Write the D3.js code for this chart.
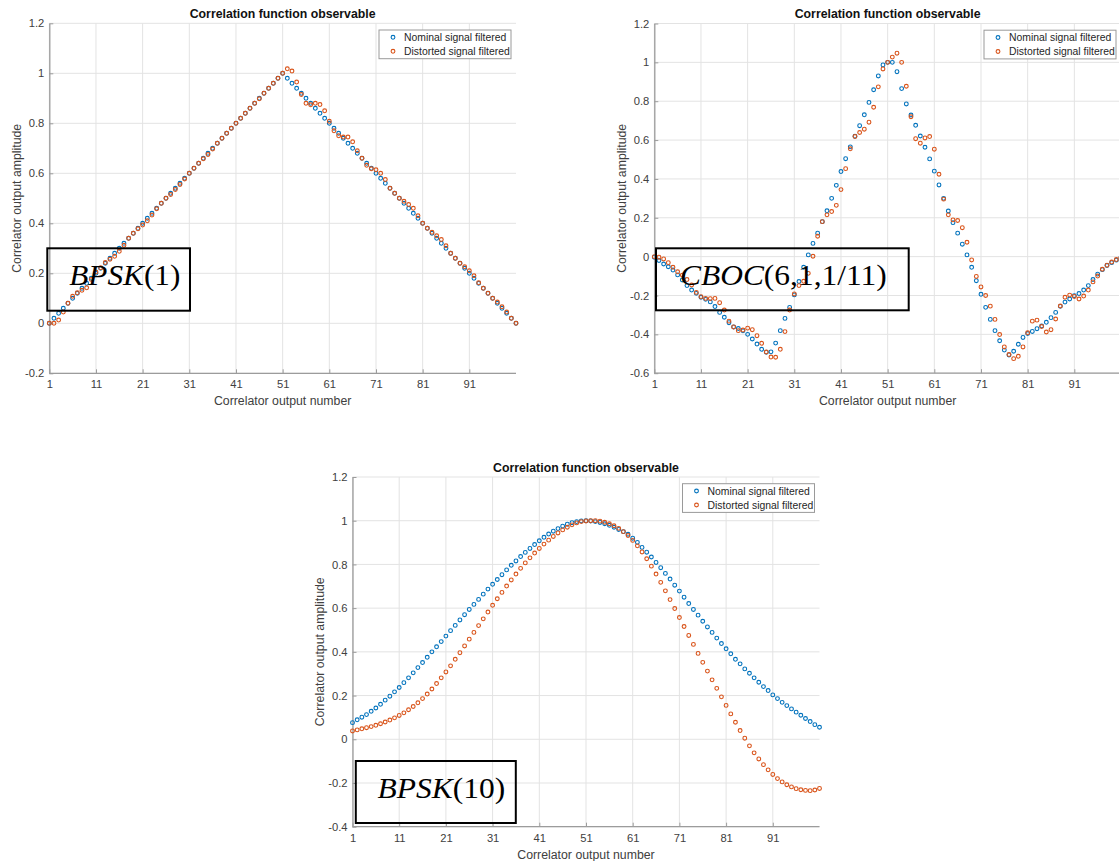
<!DOCTYPE html>
<html><head><meta charset="utf-8">
<script src="https://cdn.jsdelivr.net/npm/d3@7"></script>
<style>body{margin:0;background:#fff;} svg{display:block;}</style>
</head><body>
<svg id="chart" width="1119" height="861"></svg>
<script>
// ---------- data ----------
const xIndex = d3.range(1, 102); // correlator output numbers 1..101
const xTickValues = [1, 11, 21, 31, 41, 51, 61, 71, 81, 91];
const seriesNames = ["Nominal signal filtered", "Distorted signal filtered"];
const titleText = "Correlation function observable";
const xLabelText = "Correlator output number";
const yLabelText = "Correlator output amplitude";

const bpsk1Nominal = [0,0.02,0.04,0.06,0.08,0.10,0.12,0.14,0.16,0.18,0.20,0.22,0.24,0.26,0.28,0.30,0.32,0.34,0.36,0.38,0.40,0.42,0.44,0.46,0.48,0.50,0.52,0.54,0.56,0.58,0.60,0.62,0.64,0.66,0.68,0.70,0.72,0.74,0.76,0.78,0.80,0.82,0.84,0.86,0.88,0.90,0.92,0.94,0.96,0.98,1.00,
  0.98,0.96,0.94,0.92,0.90,0.88,0.86,0.84,0.82,0.80,0.78,0.76,0.74,0.72,0.70,0.68,0.66,0.64,0.62,0.60,0.58,0.56,0.54,0.52,0.50,0.48,0.46,0.44,0.42,0.40,0.38,0.36,0.34,0.32,0.30,0.28,0.26,0.24,0.22,0.20,0.18,0.16,0.14,0.12,0.10,0.08,0.06,0.04,0.02,0];
const bpsk1Distorted = [0,0,0.013,0.045,0.08,0.108,0.122,0.132,0.142,0.175,0.205,0.222,0.243,0.256,0.268,0.288,0.312,0.34,0.36,0.378,0.393,0.41,0.433,0.458,0.48,0.5,0.515,0.535,0.555,0.577,0.6,0.62,0.64,0.658,0.675,0.697,0.72,0.74,0.76,0.78,0.8,0.82,0.84,0.86,0.88,0.898,0.92,0.94,0.96,0.98,1.0,
  1.018,1.009,0.965,0.915,0.88,0.874,0.88,0.875,0.85,0.808,0.77,0.75,0.745,0.745,0.726,0.69,0.66,0.632,0.618,0.614,0.6,0.575,0.54,0.52,0.5,0.488,0.475,0.46,0.43,0.4,0.38,0.364,0.35,0.335,0.31,0.28,0.26,0.24,0.226,0.21,0.19,0.162,0.14,0.12,0.1,0.085,0.066,0.045,0.02,0.0];

const cbocNominal = [-0.003,-0.02,-0.038,-0.052,-0.069,-0.094,-0.12,-0.149,-0.172,-0.189,-0.209,-0.22,-0.233,-0.257,-0.287,-0.312,-0.34,-0.362,-0.37,-0.382,-0.4,-0.424,-0.45,-0.477,-0.492,-0.49,-0.445,-0.381,-0.318,-0.261,-0.197,-0.128,-0.055,0.009,0.068,0.121,0.18,0.236,0.3,0.367,0.438,0.504,0.565,0.62,0.674,0.73,0.794,0.859,0.93,0.987,1.0,
  1.0,0.952,0.865,0.786,0.729,0.676,0.621,0.563,0.503,0.44,0.369,0.3,0.235,0.175,0.121,0.064,0.009,-0.055,-0.124,-0.194,-0.261,-0.323,-0.381,-0.433,-0.481,-0.506,-0.487,-0.451,-0.416,-0.396,-0.385,-0.371,-0.357,-0.338,-0.314,-0.287,-0.256,-0.234,-0.218,-0.201,-0.19,-0.172,-0.149,-0.118,-0.09,-0.067,-0.046,-0.031,-0.018,-0.005];
const cbocDistorted = [0.0,-0.003,-0.012,-0.031,-0.055,-0.078,-0.095,-0.118,-0.146,-0.184,-0.206,-0.215,-0.216,-0.215,-0.237,-0.275,-0.332,-0.362,-0.381,-0.378,-0.368,-0.376,-0.407,-0.446,-0.491,-0.517,-0.518,-0.477,-0.386,-0.275,-0.192,-0.149,-0.127,-0.086,0.002,0.105,0.18,0.215,0.232,0.264,0.345,0.453,0.555,0.618,0.639,0.656,0.692,0.769,0.874,0.966,1.0,
  1.027,1.047,1.0,0.877,0.72,0.607,0.584,0.611,0.618,0.553,0.424,0.296,0.215,0.189,0.186,0.149,0.074,-0.017,-0.102,-0.156,-0.2,-0.255,-0.323,-0.401,-0.465,-0.504,-0.525,-0.513,-0.465,-0.392,-0.332,-0.327,-0.36,-0.388,-0.376,-0.321,-0.254,-0.209,-0.198,-0.205,-0.218,-0.203,-0.172,-0.13,-0.1,-0.065,-0.044,-0.028,-0.015,-0.005];

const bpsk10Nominal = [0.076,0.089,0.101,0.113,0.128,0.143,0.16,0.179,0.197,0.217,0.237,0.259,0.281,0.304,0.328,0.351,0.375,0.4,0.423,0.447,0.472,0.497,0.521,0.546,0.57,0.594,0.617,0.64,0.664,0.687,0.709,0.731,0.753,0.775,0.796,0.816,0.836,0.855,0.873,0.891,0.908,0.924,0.939,0.952,0.964,0.975,0.984,0.991,0.996,0.999,1.0,
  0.999,0.996,0.992,0.986,0.979,0.97,0.96,0.95,0.938,0.92,0.901,0.878,0.856,0.834,0.809,0.785,0.759,0.733,0.705,0.678,0.65,0.621,0.594,0.568,0.54,0.514,0.489,0.463,0.438,0.414,0.391,0.366,0.345,0.322,0.302,0.281,0.261,0.241,0.223,0.203,0.186,0.169,0.154,0.139,0.124,0.11,0.095,0.081,0.067,0.055];
const bpsk10Distorted = [0.038,0.043,0.048,0.053,0.058,0.064,0.071,0.079,0.088,0.098,0.109,0.121,0.135,0.15,0.167,0.186,0.207,0.23,0.255,0.281,0.308,0.336,0.366,0.396,0.427,0.458,0.489,0.52,0.551,0.582,0.613,0.643,0.672,0.701,0.729,0.756,0.782,0.807,0.83,0.852,0.873,0.893,0.911,0.928,0.944,0.958,0.97,0.981,0.99,0.996,0.999,
  1.0,1.0,0.998,0.993,0.986,0.977,0.965,0.95,0.932,0.91,0.885,0.857,0.826,0.792,0.756,0.718,0.679,0.639,0.598,0.557,0.516,0.475,0.434,0.393,0.352,0.312,0.272,0.233,0.194,0.155,0.116,0.078,0.04,0.005,-0.03,-0.062,-0.09,-0.116,-0.14,-0.161,-0.18,-0.195,-0.208,-0.218,-0.226,-0.231,-0.234,-0.235,-0.232,-0.225];

const yTicksBpsk1 = [-0.2, 0, 0.2, 0.4, 0.6, 0.8, 1, 1.2];
const yTicksCboc = [-0.6, -0.4, -0.2, 0, 0.2, 0.4, 0.6, 0.8, 1, 1.2];
const yTicksBpsk10 = [-0.4, -0.2, 0, 0.2, 0.4, 0.6, 0.8, 1, 1.2];

// ---------- layout ----------
const panels = [
  { nominal: bpsk1Nominal, distorted: bpsk1Distorted, yTicks: yTicksBpsk1,
    left: 49.3, right: 516, top: 23.3, bottom: 373.3,
    label: ["BPSK", "(1)"], box: { x: 47.3, y: 248.3, w: 142.7, h: 62.4, tx: 69.3, tw: 111 } },
  { nominal: cbocNominal, distorted: cbocDistorted, yTicks: yTicksCboc,
    left: 654.3, right: 1121, top: 23.5, bottom: 373.2,
    label: ["CBOC", "(6,1,1/11)"], box: { x: 656, y: 248.3, w: 252.7, h: 62, tx: 680, tw: 206.7 } },
  { nominal: bpsk10Nominal, distorted: bpsk10Distorted, yTicks: yTicksBpsk10,
    left: 352.5, right: 819.5, top: 477, bottom: 826.7,
    label: ["BPSK", "(10)"], box: { x: 355.8, y: 761, w: 160, h: 62, tx: 377.6, tw: 127.6 } }
];

const colors = ["#0072BD", "#D95319"];
const sans = "'Liberation Sans', Arial, Helvetica, sans-serif";
const svg = d3.select("#chart");
const fmt = d => String(+d.toFixed(1));

panels.forEach(p => {
  const x = d3.scaleLinear().domain([1, 101]).range([p.left, p.right]);
  const y = d3.scaleLinear().domain([p.yTicks[0], p.yTicks[p.yTicks.length - 1]]).range([p.bottom, p.top]);
  const g = svg.append("g");

  // grid
  g.append("g").selectAll("line.gx").data(xTickValues).join("line")
    .attr("x1", d => x(d)).attr("x2", d => x(d)).attr("y1", p.top).attr("y2", p.bottom)
    .attr("stroke", "#e3e3e3").attr("stroke-width", 1);
  g.append("g").selectAll("line.gy").data(p.yTicks).join("line")
    .attr("x1", p.left).attr("x2", p.right).attr("y1", d => y(d)).attr("y2", d => y(d))
    .attr("stroke", "#e3e3e3").attr("stroke-width", 1);

  // axes
  const xAxis = d3.axisBottom(x).tickValues(xTickValues).tickFormat(d => d)
    .tickSizeInner(-4).tickSizeOuter(0).tickPadding(7);
  const yAxis = d3.axisLeft(y).tickValues(p.yTicks).tickFormat(fmt)
    .tickSizeInner(-4).tickSizeOuter(0).tickPadding(5);
  const ax = g.append("g").attr("transform", `translate(0,${p.bottom})`).call(xAxis);
  const ay = g.append("g").attr("transform", `translate(${p.left},0)`).call(yAxis);
  [ax, ay].forEach(a => {
    a.select(".domain").attr("stroke", "#9c9c9c").attr("stroke-width", 1.3);
    a.selectAll(".tick line").attr("stroke", "#9c9c9c");
    a.selectAll(".tick text").attr("fill", "#404040").style("font-family", sans).style("font-size", "11.2px");
  });
  ax.select(".domain").attr("d", `M${p.left},0H${p.right}`);

  // title & labels
  g.append("text").attr("x", (p.left + p.right) / 2).attr("y", p.top - 5.2)
    .attr("text-anchor", "middle").style("font-family", sans).style("font-size", "12.3px")
    .style("font-weight", "bold").attr("fill", "#111").text(titleText);
  g.append("text").attr("x", (p.left + p.right) / 2).attr("y", p.bottom + 32)
    .attr("text-anchor", "middle").style("font-family", sans).style("font-size", "12.3px")
    .attr("fill", "#404040").text(xLabelText);
  g.append("text").attr("transform", `translate(${p.left - 28.4},${(p.top + p.bottom) / 2}) rotate(-90)`)
    .attr("text-anchor", "middle").style("font-family", sans).style("font-size", "12.3px")
    .attr("fill", "#404040").text(yLabelText);

  // series
  [p.nominal, p.distorted].forEach((vals, i) => {
    g.append("g").selectAll("circle").data(xIndex).join("circle")
      .attr("cx", d => x(d)).attr("cy", (d, k) => y(vals[k])).attr("r", 1.9)
      .attr("fill", "none").attr("stroke", colors[i]).attr("stroke-width", 1.1);
  });

  // legend
  const lw = 132, lh = 28.7;
  const lx = p.right - 5 - lw, ly = p.top + 6.7;
  const lg = g.append("g");
  lg.append("rect").attr("x", lx).attr("y", ly).attr("width", lw).attr("height", lh)
    .attr("fill", "#fff").attr("stroke", "#9a9a9a").attr("stroke-width", 1);
  seriesNames.forEach((name, i) => {
    const ry = ly + 7.3 + i * 14;
    lg.append("circle").attr("cx", lx + 14).attr("cy", ry).attr("r", 1.9)
      .attr("fill", "none").attr("stroke", colors[i]).attr("stroke-width", 1.1);
    lg.append("text").attr("x", lx + 25).attr("y", ry).attr("dy", "0.36em")
      .style("font-family", sans).style("font-size", "10.4px").attr("fill", "#262626").text(name);
  });

  // annotation box
  const b = p.box;
  g.append("rect").attr("x", b.x).attr("y", b.y).attr("width", b.w).attr("height", b.h)
    .attr("fill", "none").attr("stroke", "#000").attr("stroke-width", 2);
  const t = g.append("text").attr("x", b.tx).attr("y", b.y + 36.7)
    .style("font-family", "'Liberation Serif', 'DejaVu Serif', serif").style("font-size", "30px")
    .attr("fill", "#000").attr("textLength", b.tw).attr("lengthAdjust", "spacingAndGlyphs");
  t.append("tspan").style("font-style", "italic").text(p.label[0]);
  t.append("tspan").style("font-style", "normal").text(p.label[1]);
});
</script>
</body></html>
